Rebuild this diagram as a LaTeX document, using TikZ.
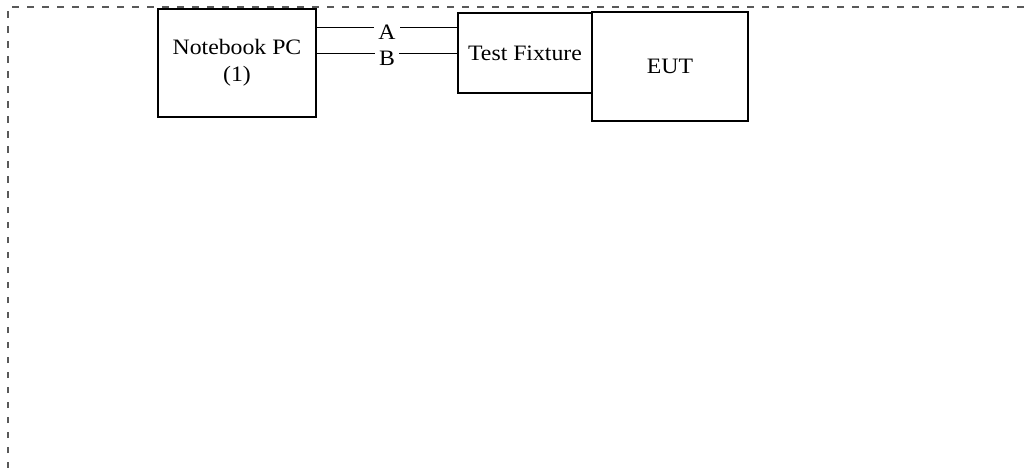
\documentclass[tikz,border=0pt]{standalone}
\usepackage{fontspec}
\setmainfont[FakeStretch = 1.08]{Liberation Serif}
\usepackage{tikz}
\tikzset{unit/.style = {draw, line width = 1.4, inner sep = 0, align = center, font = \fontsize{22}{27}\selectfont},
  wirelbl/.style = {fill = white, inner sep = 4, font = \fontsize{22}{22}\selectfont}}

\begin{document}
\begin{tikzpicture}[x = 1pt, y = -1pt]
    \useasboundingbox (0, 0) rectangle (1034, 468);
    \draw [black!65, line width = 1.1, dash pattern = on 6.5 off 8.5] (8, 468) -- (8, 7) -- (1030, 7);

    \node [unit, minimum width = 158, minimum height = 108] (pc) at (237, 63) {Notebook PC\\(1)};
    \node [unit, minimum width = 134, minimum height = 80] (fix) at (525, 53) {Test Fixture};
    \node [unit, minimum width = 156, minimum height = 109] (eut) at (670, 66.5) {EUT};

    \draw (pc.east |- 0, 27) -- node [wirelbl, yshift = -5] {A} (fix.west |- 0, 27);
    \draw (pc.east |- 0, 53) -- node [wirelbl, yshift = -5] {B} (fix.west |- 0, 53);
  \end{tikzpicture}
\end{document}
